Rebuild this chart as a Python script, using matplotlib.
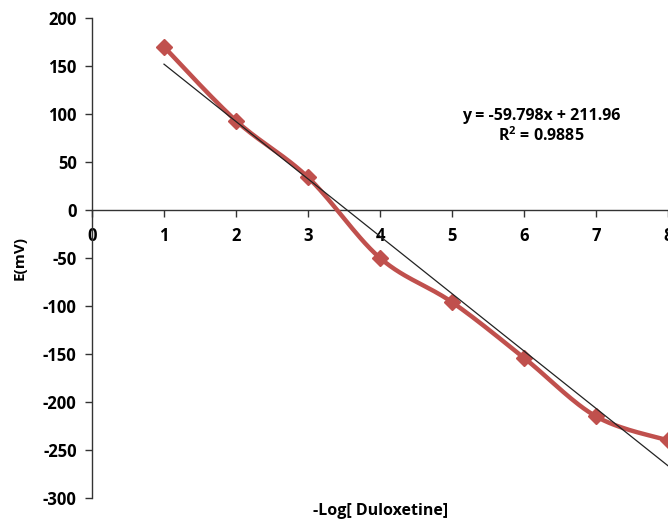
import numpy as np
import matplotlib
matplotlib.use('Agg')
import matplotlib.pyplot as plt

# data
log_conc = [1, 2, 3, 4, 5, 6, 7, 8]
potential = [170, 93, 34, -50, -96, -154, -215, -240]
eq_text = "y = -59.798x + 211.96\nR$^2$ = 0.9885"


def smooth_curve(x, y, n=30):
    # Excel-like smoothed line (Catmull-Rom bezier)
    x = np.asarray(x, float)
    y = np.asarray(y, float)
    pts = np.column_stack([x, y])
    pts = np.vstack([pts[0], pts, pts[-1]])
    out = []
    for i in range(1, len(pts) - 2):
        p0, p1, p2, p3 = pts[i - 1], pts[i], pts[i + 1], pts[i + 2]
        c1 = p1 + (p2 - p0) / 6
        c2 = p2 - (p3 - p1) / 6
        t = np.linspace(0, 1, n)[:, None]
        seg = ((1 - t) ** 3) * p1 + 3 * ((1 - t) ** 2) * t * c1 + 3 * (1 - t) * t ** 2 * c2 + t ** 3 * p2
        out.append(seg)
    out = np.vstack(out)
    return out[:, 0], out[:, 1]


plt.rcParams['font.family'] = ['Open Sans', 'DejaVu Sans']
plt.rcParams['axes.unicode_minus'] = False
plt.rcParams['mathtext.fontset'] = 'custom'
plt.rcParams['mathtext.rm'] = 'Open Sans:bold'

fig = plt.figure(figsize=(6.68, 5.22), dpi=100)
ax = fig.add_axes([92 / 668, 1 - 498 / 522, 1 - 92 / 668, (498 - 18) / 522])

red = '#C0504D'
sx, sy = smooth_curve(log_conc, potential)
ax.plot(sx, sy, color=red, lw=3.2, solid_capstyle='round', zorder=3)
ax.plot(log_conc, potential, ls='none', marker='D', ms=8, color=red, zorder=4)

# linear trendline
slope, intercept = np.polyfit(log_conc, potential, 1)
tx = np.array([1, 8.5])
ax.plot(tx, slope * tx + intercept, color='#222222', lw=0.9, zorder=5)

ax.text(6.24, 87, eq_text, ha='center', va='center', fontsize=11.5,
        fontweight='bold', linespacing=1.2)

ax.set_xlim(0, 8)
ax.set_ylim(-300, 200)
ax.set_xticks(range(0, 9))
ax.set_yticks(range(-300, 201, 50))

ax.spines['top'].set_visible(False)
ax.spines['right'].set_visible(False)
ax.spines['bottom'].set_position(('data', 0))
for s in ['left', 'bottom']:
    ax.spines[s].set_color('#333333')
    ax.spines[s].set_linewidth(1.0)

ax.tick_params(axis='both', direction='out', length=5, width=1, color='#333333',
               labelsize=12)
ax.tick_params(axis='x', pad=7)
ax.tick_params(axis='y', pad=6)
for lbl in ax.get_xticklabels() + ax.get_yticklabels():
    lbl.set_fontweight('bold')

fig.text(381 / 668, 1 - 511 / 522, '-Log[ Duloxetine]', ha='center', va='center',
         fontsize=11.5, fontweight='bold')
fig.text(20 / 668, 1 - 258 / 522, 'E(mV)', ha='center', va='center', rotation=90,
         fontsize=11, fontweight='bold')

for line in ax.lines:
    line.set_clip_on(False)

fig.savefig('out.png', dpi=100)
